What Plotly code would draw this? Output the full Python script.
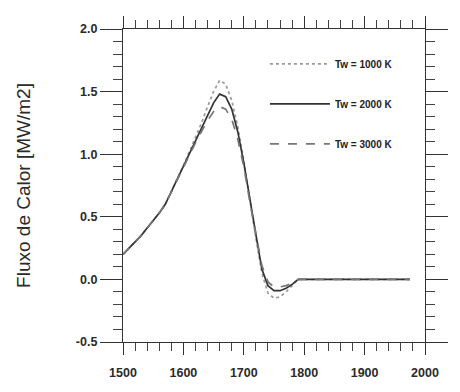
import plotly.graph_objects as go

x = [1500, 1510, 1520, 1530, 1540, 1550, 1560, 1570, 1580, 1590, 1600, 1610, 1620,
     1630, 1640, 1650, 1660, 1670, 1680, 1690, 1700, 1710, 1720, 1730, 1740, 1750,
     1760, 1770, 1780, 1790, 1975]

tw1000 = [0.20, 0.25, 0.30, 0.35, 0.41, 0.47, 0.53, 0.60, 0.70, 0.80, 0.91, 1.02, 1.13,
          1.25, 1.38, 1.50, 1.59, 1.56, 1.43, 1.22, 0.95, 0.63, 0.33, 0.05, -0.11, -0.15,
          -0.14, -0.10, -0.05, 0.0, 0.0]
tw2000 = [0.20, 0.25, 0.30, 0.35, 0.41, 0.47, 0.53, 0.60, 0.70, 0.80, 0.91, 1.01, 1.11,
          1.21, 1.31, 1.41, 1.48, 1.46, 1.36, 1.18, 0.93, 0.63, 0.36, 0.08, -0.05, -0.09,
          -0.09, -0.07, -0.04, 0.0, 0.0]
tw3000 = [0.20, 0.25, 0.30, 0.35, 0.41, 0.47, 0.53, 0.60, 0.70, 0.80, 0.90, 1.00, 1.09,
          1.18, 1.27, 1.34, 1.38, 1.36, 1.28, 1.12, 0.90, 0.62, 0.36, 0.11, -0.02, -0.06,
          -0.06, -0.05, -0.03, 0.0, 0.0]

names = ["Tw = 1000 K", "Tw = 2000 K", "Tw = 3000 K"]
series = [tw1000, tw2000, tw3000]
colors = ["#9a9a9a", "#333333", "#777777"]
dashes = ["dot", "solid", "dash"]

xticks = [1500, 1600, 1700, 1800, 1900, 2000]
yticks = [-0.5, 0.0, 0.5, 1.0, 1.5, 2.0]
ylabels = ["-0.5", "0.0", "0.5", "1.0", "1.5", "2.0"]

fig = go.Figure()
for n, s, c, d in zip(names, series, colors, dashes):
    fig.add_trace(go.Scatter(x=x, y=s, mode="lines", name=n, legendgroup=n,
                             line=dict(color=c, width=1.7, dash=d)))

tf = dict(family="Liberation Sans, Arial, sans-serif", size=12.5, color="#2a2a2a", weight="bold")

fig.update_layout(
    width=460, height=392,
    margin=dict(l=123, r=25, t=29, b=44),
    paper_bgcolor="white", plot_bgcolor="white",
    font=dict(family="Liberation Sans, Arial, sans-serif", size=11, color="#333"),
    legend=dict(x=0.47, y=0.935, xanchor="left", yanchor="top",
                bgcolor="rgba(0,0,0,0)",
                font=dict(family="Liberation Sans, Arial, sans-serif", size=10,
                          color="#222", weight="bold"),
                tracegroupgap=21, itemwidth=60),
    xaxis=dict(range=[1500, 2000], tickvals=xticks,
               showline=True, linecolor="#333", linewidth=1.3, mirror="ticks",
               ticks="outside", ticklen=12, tickcolor="#333", tickwidth=1.3,
               minor=dict(dtick=20, ticks="outside", ticklen=8, tickcolor="#444"),
               showgrid=False, zeroline=False, tickfont=tf, ticklabelstandoff=7),
    yaxis=dict(range=[-0.5, 2.0], tickvals=yticks, ticktext=ylabels,
               showline=True, linecolor="#333", linewidth=1.3, mirror="ticks",
               ticks="outside", ticklen=22, tickcolor="#333", tickwidth=1.3,
               minor=dict(dtick=0.1, ticks="outside", ticklen=9, tickcolor="#444"),
               showgrid=False, zeroline=False, tickfont=tf,
               title=dict(text="Fluxo de Calor [MW/m2]",
                          font=dict(family="Liberation Sans, Arial, sans-serif",
                                    size=19, color="#2a2a2a"),
                          standoff=40)),
)

fig.write_html("out.html")
